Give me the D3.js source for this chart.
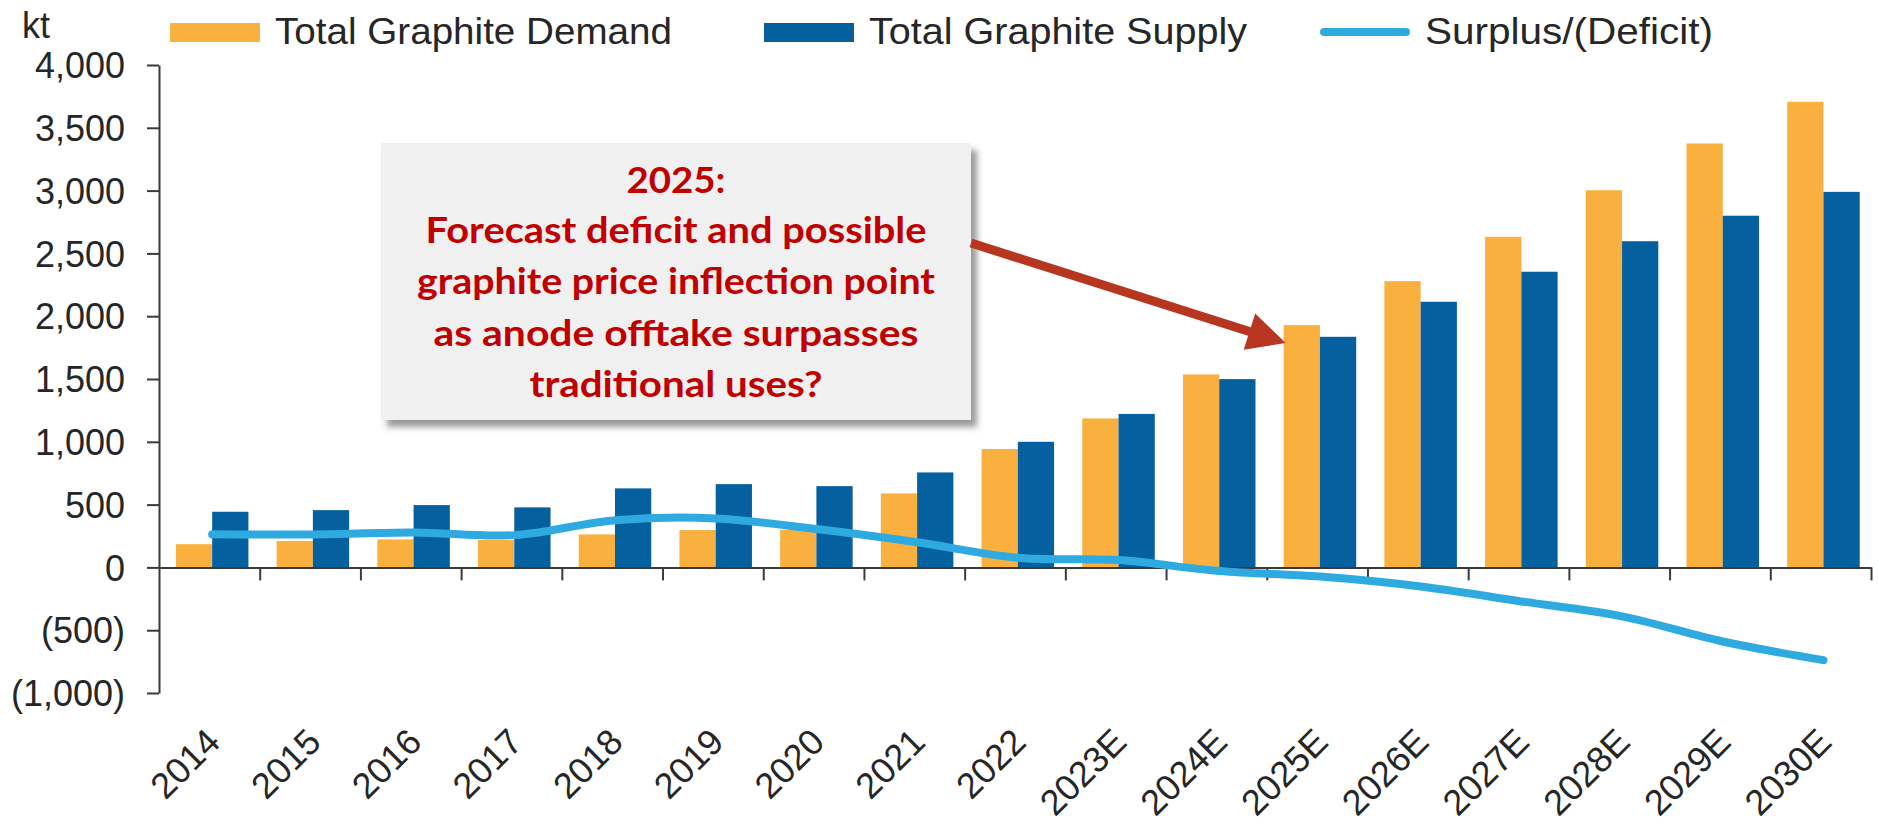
<!DOCTYPE html>
<html>

<head>
    <meta charset="utf-8" />
    <title>Graphite demand and supply</title>
    <script src="https://d3js.org/d3.v7.min.js"></script>
</head>

<body>
    <style>
        body {
            margin: 0;
            background: #fff;
        }

        svg text {
            font-family: "Liberation Sans", Arial, sans-serif;
            fill: #262626;
        }

        .axis path,
        .axis line {
            stroke: #3a3a3a;
            stroke-width: 2;
        }

        .note text {
            font-family: Lato, "Open Sans", sans-serif;
            font-weight: bold;
            fill: #c00000;
        }
    </style>

    <div class="chart-container"></div>

    <script>
        // categories and series (kt)
        const years = ["2014", "2015", "2016", "2017", "2018", "2019", "2020", "2021", "2022",
            "2023E", "2024E", "2025E", "2026E", "2027E", "2028E", "2029E", "2030E"];
        const demand = [185, 210, 223, 218, 263, 297, 300, 589, 942, 1186, 1536, 1929, 2279, 2632, 3003, 3375, 3707];
        const supply = [443, 456, 496, 478, 629, 663, 647, 756, 1000, 1222, 1499, 1836, 2115, 2354, 2597, 2800, 2990];
        const surplus = [263, 262, 278, 257, 376, 390, 305, 200, 77, 58, -29, -73, -152, -271, -390, -590, -738];
        const yTicks = [4000, 3500, 3000, 2500, 2000, 1500, 1000, 500, 0, -500, -1000];
        const seriesNames = ["Total Graphite Demand", "Total Graphite Supply", "Surplus/(Deficit)"];
        const noteLines = ["2025:", "Forecast deficit and possible", "graphite price inflection point",
            "as anode offtake surpasses", "traditional uses?"];

        const w = 1878;
        const h = 824;
        const orange = "#f9b03f";
        const navy = "#0560a0";
        const sky = "#2faae1";

        let svg = d3.select('.chart-container')
            .append('svg')
            .attr('width', w)
            .attr('height', h);

        // scales
        const x0 = d3.scaleBand().domain(years).range([159, 1871])
            .paddingInner(0.28).paddingOuter(0.14).align(0.6);
        const x1 = d3.scaleBand().domain(["demand", "supply"]).range([0, x0.bandwidth()]);
        const y = d3.scaleLinear().domain([-1000, 4000]).range([693, 65]);
        const idx = d3.scaleLinear().domain([0, years.length]).range([159, 1871]);

        const fmt = d3.format(",");
        const yFormat = (v) => v < 0 ? "(" + fmt(-v) + ")" : fmt(v);

        // y axis
        let yAxis = svg.append('g')
            .attr('class', 'axis')
            .attr('transform', 'translate(159,0)')
            .call(d3.axisLeft(y).tickValues(yTicks).tickFormat(yFormat)
                .tickSize(12).tickPadding(22).tickSizeOuter(0));
        yAxis.selectAll('text').style('font-size', '36px').attr('dy', '0.35em');

        // bars
        const bars = [
            { key: "demand", values: demand, color: orange },
            { key: "supply", values: supply, color: navy }
        ];
        bars.forEach((s) => {
            svg.append('g').selectAll('rect')
                .data(s.values)
                .enter()
                .append('rect')
                .attr('x', (d, i) => x0(years[i]) + x1(s.key))
                .attr('width', x1.bandwidth())
                .attr('y', (d) => y(Math.max(0, d)))
                .attr('height', (d) => Math.abs(y(d) - y(0)))
                .attr('fill', s.color);
        });

        // x axis line with ticks between categories
        svg.append('g')
            .attr('class', 'axis')
            .attr('transform', `translate(0,${y(0)})`)
            .call(d3.axisBottom(idx).tickValues(d3.range(1, years.length + 1))
                .tickFormat('').tickSize(13).tickSizeOuter(0));

        // surplus line
        const lineGen = d3.line()
            .x((d, i) => x0(years[i]) + x1("supply"))
            .y((d) => y(d))
            .curve(d3.curveCatmullRom);
        svg.append('path')
            .datum(surplus)
            .attr('d', lineGen)
            .attr('fill', 'none')
            .attr('stroke', sky)
            .attr('stroke-width', 8)
            .attr('stroke-linecap', 'round')
            .attr('stroke-linejoin', 'round');

        // category labels
        svg.selectAll('.xlab')
            .data(years)
            .enter()
            .append('text')
            .attr('class', 'xlab')
            .attr('transform', (d) => `translate(${x0(d) + x1("supply") + 10},744) rotate(-45)`)
            .attr('text-anchor', 'end')
            .style('font-size', '36px')
            .text((d) => d);

        // unit label
        svg.append('text').attr('x', 22).attr('y', 38).style('font-size', '36px').text('kt');

        // legend
        const legendX = [170, 764, 1320];
        const legendW = [397, 378, 288];
        let legend = svg.append('g');
        legend.append('rect').attr('x', legendX[0]).attr('y', 23).attr('width', 90).attr('height', 19).attr('fill', orange);
        legend.append('rect').attr('x', legendX[1]).attr('y', 23).attr('width', 90).attr('height', 19).attr('fill', navy);
        legend.append('line').attr('x1', legendX[2] + 4).attr('x2', legendX[2] + 86).attr('y1', 32).attr('y2', 32)
            .attr('stroke', sky).attr('stroke-width', 8).attr('stroke-linecap', 'round');
        legend.selectAll('text')
            .data(seriesNames)
            .enter()
            .append('text')
            .attr('x', (d, i) => legendX[i] + 105)
            .attr('y', 44)
            .attr('textLength', (d, i) => legendW[i])
            .attr('lengthAdjust', 'spacingAndGlyphs')
            .style('font-size', '37px')
            .text((d) => d);

        // annotation box with shadow
        let defs = svg.append('defs');
        let shadow = defs.append('filter').attr('id', 'shadow')
            .attr('x', '-10%').attr('y', '-10%').attr('width', '130%').attr('height', '130%');
        shadow.append('feDropShadow').attr('dx', 6).attr('dy', 7).attr('stdDeviation', 3)
            .attr('flood-color', '#555').attr('flood-opacity', 0.6);

        let note = svg.append('g').attr('class', 'note');
        note.append('rect')
            .attr('x', 381).attr('y', 143).attr('width', 590).attr('height', 277)
            .attr('fill', '#f0f0f0')
            .attr('filter', 'url(#shadow)');
        const noteY = [193, 243, 294, 346, 397];
        const noteW = [99, 501, 518, 485, 293];
        note.selectAll('text')
            .data(noteLines)
            .enter()
            .append('text')
            .attr('x', 676)
            .attr('y', (d, i) => noteY[i])
            .attr('text-anchor', 'middle')
            .attr('textLength', (d, i) => noteW[i])
            .attr('lengthAdjust', 'spacingAndGlyphs')
            .style('font-size', '37px')
            .text((d) => d);

        // arrow pointing at the 2025E bars
        const start = [971, 243];
        const tip = [x0("2025E") + 2, y(demand[11]) + 18];
        const dx = tip[0] - start[0], dy = tip[1] - start[1];
        const len = Math.hypot(dx, dy);
        const ux = dx / len, uy = dy / len;
        const headLen = 38, headHalf = 19;
        const base = [tip[0] - ux * headLen, tip[1] - uy * headLen];
        svg.append('line')
            .attr('x1', start[0]).attr('y1', start[1])
            .attr('x2', base[0] + ux * 4).attr('y2', base[1] + uy * 4)
            .attr('stroke', '#b7361f').attr('stroke-width', 9);
        svg.append('polygon')
            .attr('points', [
                tip,
                [base[0] - uy * headHalf, base[1] + ux * headHalf],
                [base[0] + uy * headHalf, base[1] - ux * headHalf]
            ].map((p) => p.join(',')).join(' '))
            .attr('fill', '#b7361f');
    </script>
</body>

</html>
